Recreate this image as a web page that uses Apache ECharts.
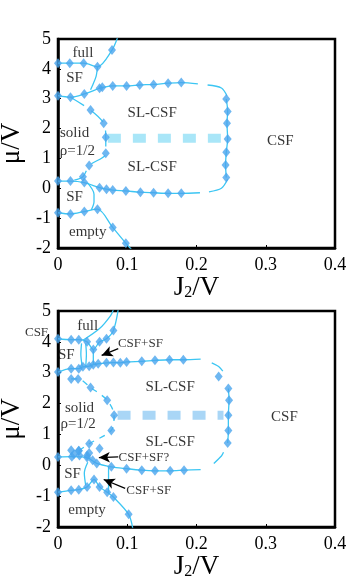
<!DOCTYPE html>
<html>
<head>
<meta charset="utf-8">
<script src="https://cdn.jsdelivr.net/npm/echarts@6/dist/echarts.min.js"></script>
<style>
html, body { margin: 0; padding: 0; background: #fff; }
#chart { width: 355px; height: 584px; }
</style>
</head>
<body>
<div id="chart"></div>
<script>
const xTicks = ['0', '0.1', '0.2', '0.3', '0.4'];

// ---- top panel ----
const topFullEdge = [[0, 4.19], [0.017, 4.19], [0.037, 4.19], [0.057, 4.07], [0.078, 4.63]];
const topFullTail = [[0.086, 5.05]];
const topSfBracket = [[0.057, 4.07], [0.055, 3.75], [0.050, 3.45], [0.047, 3.3]];
const topMidRow = [[0, 3.10], [0.018, 3.05], [0.038, 3.16], [0.060, 3.35], [0.064, 3.38], [0.079, 3.43], [0.099, 3.43],
  [0.118, 3.46], [0.138, 3.48], [0.159, 3.52], [0.178, 3.54]];
const topMidTail = [[0.202, 3.50]];
const topUpperCorner = [[0.216, 3.46], [0.236, 3.36], [0.244, 3.1]];
const topRightCol = [[0.243, 2.99], [0.245, 2.57], [0.244, 2.18], [0.245, 1.65], [0.243, 1.21], [0.242, 0.78], [0.243, 0.36]];
const topLowRow = [[0, 0.24], [0.018, 0.24], [0.038, 0.19], [0.060, 0.02], [0.070, -0.03], [0.079, -0.06], [0.098, -0.09],
  [0.119, -0.13], [0.138, -0.15], [0.159, -0.17], [0.178, -0.17]];
const topLowTail = [[0.205, -0.15]];
const topLowerCorner = [[0.218, -0.12], [0.236, 0.0], [0.245, 0.3]];
const topSolidEdge = [[0.018, 3.05], [0.047, 2.62], [0.066, 2.18], [0.069, 1.71], [0.069, 1.17], [0.045, 0.76], [0.036, 0.39], [0.018, 0.24]];
const topSolidDots = [[0.047, 2.62], [0.066, 2.18], [0.069, 1.71], [0.069, 1.17], [0.045, 0.76], [0.036, 0.39]];
const topEmptyEdge = [[0, -0.82], [0.018, -0.86], [0.038, -0.78], [0.057, -0.70], [0.079, -1.31], [0.098, -1.84]];
const topEmptyTail = [[0.108, -2.1]];
const topSfBracketLow = [[0.043, 0.17], [0.052, -0.2], [0.052, -0.45], [0.048, -0.73]];
const topDash = [[0.072, 1.68], [0.237, 1.68]];
const topLabels = [[0.036, 4.53, 'full'], [0.024, 3.69, 'SF'], [0.136, 2.52, 'SL-CSF'], [0.024, 1.85, 'solid'],
  [0.028, 1.25, 'ρ=1/2'], [0.136, 0.71, 'SL-CSF'], [0.024, -0.29, 'SF'], [0.043, -1.46, 'empty'], [0.321, 1.58, 'CSF']];

// ---- bottom panel ----
const botFullEdge = [[0, 4.10], [0.019, 4.07], [0.030, 4.07], [0.042, 4.00], [0.051, 3.75], [0.060, 4.00], [0.070, 4.10], [0.080, 4.37]];
const botFullTail = [[0.087, 5.05]];
const botFullEdge2 = [[0.036, 4.05], [0.060, 4.43], [0.076, 4.85], [0.080, 5.05]];
const botWallA = [[0.034, 3.95], [0.033, 3.6], [0.035, 3.2]];
const botWallB = [[0.040, 3.95], [0.041, 3.6], [0.040, 3.2]];
const botWallC = [[0.051, 3.75], [0.051, 3.26]];
const botMidRow = [[0, 3.02], [0.019, 3.13], [0.030, 3.13], [0.036, 3.19], [0.045, 3.21], [0.051, 3.26], [0.058, 3.29],
  [0.070, 3.32], [0.080, 3.33], [0.090, 3.32], [0.099, 3.35], [0.121, 3.37], [0.140, 3.40], [0.161, 3.42], [0.181, 3.42]];
const botMidTail = [[0.206, 3.44]];
const botUpperCorner = [[0.222, 3.32], [0.232, 3.2], [0.238, 3.05]];
const botLoneDot = [[0.232, 2.88]];
const botRightCol = [[0.246, 2.49], [0.247, 2.11], [0.246, 1.62], [0.246, 1.13], [0.245, 0.72]];
const botLowerCorner = [[0.225, 0.06], [0.236, 0.3], [0.239, 0.42]];
const botLowRow = [[0, 0.27], [0.020, 0.28], [0.042, 0.25], [0.056, 0.06], [0.077, -0.05], [0.099, -0.11], [0.121, -0.16],
  [0.140, -0.18], [0.162, -0.18], [0.182, -0.16]];
const botLowTail = [[0.206, -0.14]];
const botCluster = [[0.019, 0.49], [0.030, 0.47], [0.023, 0.36], [0.031, 0.32], [0.042, 0.32], [0.060, 0.54], [0.050, 0.16], [0.045, 0.40]];
const botSolidEdge = [[0.019, 2.80], [0.029, 2.80], [0.047, 2.52], [0.071, 2.11], [0.081, 1.62], [0.077, 1.13], [0.045, 0.70], [0.030, 0.47]];
const botEmptyEdge = [[0, -0.87], [0.019, -0.81], [0.030, -0.79], [0.042, -0.70], [0.052, -0.46], [0.060, -0.70], [0.071, -0.87],
  [0.080, -1.03], [0.102, -1.59]];
const botEmptyTail = [[0.108, -2.05]];
const botCsfWall = [[0.073, -0.03], [0.073, -0.45], [0.073, -0.9]];
const botSfBracket = [[0.043, 0.1], [0.038, -0.25], [0.040, -0.65]];
const botDash = [[0.086, 1.62], [0.239, 1.62]];
const botLabels = [[0.043, 4.50, 'full'], [0.012, 3.56, 'SF'], [0.162, 2.53, 'SL-CSF'], [0.031, 1.84, 'solid'],
  [0.029, 1.35, 'ρ=1/2'], [0.162, 0.76, 'SL-CSF'], [0.021, -0.27, 'SF'], [0.042, -1.46, 'empty'], [0.327, 1.57, 'CSF']];
const botNotes = [[-0.031, 4.31, 'CSF'], [0.119, 3.94, 'CSF+SF'], [0.124, 0.25, 'CSF+SF?'], [0.131, -0.81, 'CSF+SF']];
const botArrows = [[[-0.017, 4.15], [0.036, 3.51]], [[0.087, 3.78], [0.063, 3.56]],
  [[0.087, 0.27], [0.059, 0.25]], [[0.097, -0.75], [0.066, -0.46]]];

const serif = 'Liberation Serif';
const lineColor = '#3cc6f3';
const dotColor = '#4aa5ee';

function curve(data, g, opt) {
  opt = opt || {};
  return {
    type: 'line', xAxisIndex: g, yAxisIndex: g, data: data,
    smooth: opt.smooth == null ? 0.3 : opt.smooth,
    symbol: 'none', silent: true, z: opt.z || 2,
    lineStyle: { color: opt.color || lineColor, width: opt.width || 1.3, type: opt.type || 'solid', cap: 'butt' }
  };
}
function dots(data, g) {
  return {
    type: 'scatter', xAxisIndex: g, yAxisIndex: g, data: data, silent: true, z: 3,
    symbol: 'diamond', symbolSize: [8, 10], itemStyle: { color: dotColor }
  };
}
function labels(data, g, size) {
  return {
    type: 'scatter', xAxisIndex: g, yAxisIndex: g, clip: false, silent: true, z: 5,
    symbolSize: 0,
    data: data.map(d => ({ value: [d[0], d[1]], name: d[2] })),
    label: { show: true, position: 'inside', formatter: '{b}', color: '#000', fontFamily: serif, fontSize: size }
  };
}

function xAxis(g) {
  return {
    gridIndex: g, type: 'value', min: 0, max: 0.4, interval: 0.1,
    name: 'J{s|2}/V', nameLocation: 'middle', nameGap: 22,
    nameTextStyle: { color: '#000', fontFamily: serif, fontSize: 27,
      rich: { s: { fontFamily: serif, fontSize: 16, padding: [9, 0, 0, 0] } } },
    axisLine: { onZero: false, lineStyle: { color: '#000', width: 2.5 } },
    axisTick: { inside: true, length: 3, lineStyle: { color: '#000' } },
    axisLabel: { color: '#000', fontFamily: serif, fontSize: 18, margin: 8,
      formatter: v => xTicks[Math.round(v * 10)] },
    splitLine: { show: false }
  };
}
function yAxis(g) {
  return {
    gridIndex: g, type: 'value', min: -2, max: 5, interval: 1,
    name: 'μ/V', nameLocation: 'middle', nameGap: 28,
    nameTextStyle: { color: '#000', fontFamily: serif, fontSize: 27 },
    axisLine: { onZero: false, lineStyle: { color: '#000', width: 2.5 } },
    axisTick: { inside: true, length: 3, lineStyle: { color: '#000' } },
    axisLabel: { color: '#000', fontFamily: serif, fontSize: 18, margin: 7 },
    splitLine: { show: false }
  };
}

const series = [
  // top
  curve(topFullEdge.concat(topFullTail), 0),
  curve(topSfBracket, 0),
  curve(topMidRow.concat(topMidTail), 0),
  curve(topUpperCorner, 0),
  curve(topRightCol, 0),
  curve(topLowRow.concat(topLowTail), 0),
  curve(topLowerCorner, 0),
  curve(topSolidEdge, 0, { type: [16, 9] }),
  curve(topEmptyEdge.concat(topEmptyTail), 0),
  curve(topSfBracketLow, 0),
  curve(topDash, 0, { color: '#a9e6f8', width: 9, type: [13, 12], smooth: 0, z: 1 }),
  dots(topFullEdge.concat(topMidRow, topRightCol, topLowRow, topSolidDots, topEmptyEdge), 0),
  labels(topLabels, 0, 15),
  // bottom
  curve(botFullEdge.concat(botFullTail), 1),
  curve(botFullEdge2, 1),
  curve(botWallA, 1), curve(botWallB, 1), curve(botWallC, 1),
  curve(botMidRow.concat(botMidTail), 1),
  curve(botUpperCorner, 1),
  curve(botRightCol, 1),
  curve(botLowerCorner, 1),
  curve(botLowRow.concat(botLowTail), 1),
  curve(botSolidEdge, 1, { type: [6, 6] }),
  curve(botEmptyEdge.concat(botEmptyTail), 1),
  curve(botCsfWall, 1, { smooth: 0 }),
  curve(botSfBracket, 1),
  curve(botDash, 1, { color: '#a9d6f6', width: 9, type: [13, 12], smooth: 0, z: 1 }),
  dots(botFullEdge.concat(botMidRow, botLoneDot, botRightCol, botLowRow, botCluster, botSolidEdge, botEmptyEdge), 1),
  labels(botLabels, 1, 15),
  Object.assign(labels(botNotes, 1, 13), {
    markLine: {
      silent: true, symbol: ['none', 'arrow'], symbolSize: [8, 11],
      label: { show: false },
      lineStyle: { color: '#000', width: 1.3, type: 'solid' },
      data: botArrows.map(a => [{ coord: a[0] }, { coord: a[1] }])
    }
  })
];

const chart = echarts.init(document.getElementById('chart'));
chart.setOption({
  animation: false,
  backgroundColor: '#fff',
  grid: [
    { left: 58, right: 20, top: 39, height: 209, outerBoundsMode: 'none', containLabel: false,
      show: true, borderColor: '#000', borderWidth: 2.5 },
    { left: 58, right: 20, top: 311, height: 216, outerBoundsMode: 'none', containLabel: false,
      show: true, borderColor: '#000', borderWidth: 2.5 }
  ],
  xAxis: [xAxis(0), xAxis(1)],
  yAxis: [yAxis(0), yAxis(1)],
  series: series
});
</script>
</body>
</html>
